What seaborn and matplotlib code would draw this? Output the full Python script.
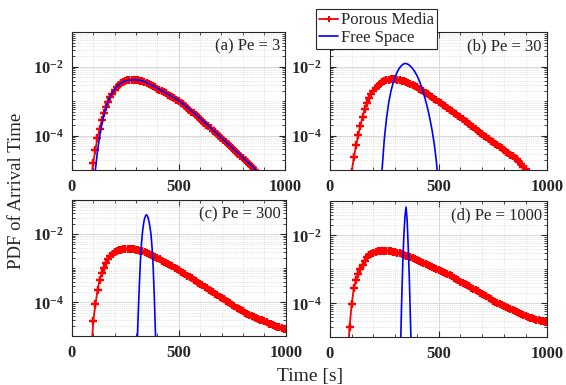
import numpy as np
import matplotlib
matplotlib.use("Agg")
import matplotlib.pyplot as plt
from matplotlib.ticker import FixedLocator, LogLocator, MultipleLocator, NullFormatter, FuncFormatter
import seaborn as sns

sns.set_style("ticks")
plt.rcParams["font.family"] = ["Liberation Serif", "DejaVu Serif"]
plt.rcParams["mathtext.fontset"] = "custom"
plt.rcParams["mathtext.rm"] = "Liberation Serif"
plt.rcParams["mathtext.bf"] = "Liberation Serif:bold"

# log10 of the PDF
# (a) Pe = 3
t_pm_a = list(range(90, 861, 10))
pm_a = [-5.25,
        -4.78, -4.42, -4.06, -3.80, -3.55, -3.35, -3.17, -3.02, -2.89, -2.78,
        -2.68, -2.60, -2.53, -2.48, -2.44, -2.41, -2.39, -2.375, -2.37, -2.37,
        -2.375, -2.385, -2.40, -2.42, -2.44, -2.47, -2.50, -2.53, -2.56, -2.60,
        -2.63, -2.67, -2.70, -2.74, -2.77, -2.81, -2.84, -2.88, -2.92, -2.95,
        -2.99, -3.04, -3.09, -3.14, -3.19, -3.24, -3.30, -3.35, -3.40, -3.46,
        -3.51, -3.57, -3.62, -3.68, -3.73, -3.79, -3.85, -3.90, -3.96, -4.02,
        -4.08, -4.13, -4.19, -4.25, -4.30, -4.36, -4.42, -4.48, -4.53, -4.59,
        -4.65, -4.71, -4.77, -4.82, -4.88, -4.94, -5.00]
t_fs_a = list(range(110, 861, 10))
fs_a = [-5.00, -4.45, -4.02, -3.68, -3.40, -3.18, -3.00, -2.86, -2.75, -2.66,
        -2.58, -2.52, -2.47, -2.44, -2.41, -2.395, -2.385, -2.38, -2.38, -2.38,
        -2.385, -2.39, -2.41, -2.43, -2.46, -2.49, -2.52, -2.55, -2.58, -2.62,
        -2.65, -2.69, -2.72, -2.76, -2.79, -2.83, -2.87, -2.90, -2.94, -2.98,
        -3.02, -3.07, -3.12, -3.17, -3.22, -3.28, -3.33, -3.38, -3.44, -3.49,
        -3.55, -3.60, -3.66, -3.71, -3.77, -3.83, -3.88, -3.94, -4.00, -4.06,
        -4.11, -4.17, -4.23, -4.28, -4.34, -4.40, -4.46, -4.51, -4.57, -4.63,
        -4.69, -4.75, -4.80, -4.86, -4.92, -4.98]

# (b) Pe = 30
t_pm_b = list(range(100, 901, 10))
pm_b = [-5.05, -4.62, -4.28, -3.98, -3.71, -3.45, -3.23, -3.06, -2.92, -2.80,
        -2.70, -2.61, -2.55, -2.50, -2.45, -2.42, -2.39, -2.37, -2.36, -2.36,
        -2.365, -2.375, -2.39, -2.40, -2.42, -2.44, -2.47, -2.50, -2.53, -2.56,
        -2.60, -2.63, -2.67, -2.71, -2.75, -2.79, -2.84, -2.88, -2.93, -2.97,
        -3.02, -3.06, -3.11, -3.15, -3.20, -3.24, -3.29, -3.33, -3.38, -3.42,
        -3.47, -3.52, -3.56, -3.61, -3.66, -3.71, -3.76, -3.81, -3.86, -3.91,
        -3.96, -4.00, -4.05, -4.10, -4.14, -4.19, -4.23, -4.28, -4.32, -4.37,
        -4.41, -4.46, -4.50, -4.55, -4.59, -4.64, -4.69, -4.75, -4.82, -4.90, -4.98]
t_fs_b = list(range(230, 501, 10))
fs_b = [-6.00, -4.95, -4.10, -3.50, -3.05, -2.72, -2.48, -2.29, -2.14, -2.03,
        -1.96, -1.91, -1.905, -1.93, -1.98, -2.05, -2.14, -2.25, -2.39, -2.56,
        -2.76, -2.98, -3.23, -3.52, -3.85, -4.25, -4.78, -5.45]

# (c) Pe = 300
t_pm_c = list(range(90, 1001, 10))
pm_c = [-5.50, -4.55, -4.06, -3.65, -3.34, -3.14, -2.99, -2.85, -2.73, -2.64,
        -2.58, -2.54, -2.50, -2.475, -2.46, -2.45, -2.445, -2.44, -2.44, -2.445,
        -2.45, -2.465, -2.475, -2.49, -2.51, -2.53, -2.56, -2.59, -2.62, -2.65,
        -2.68, -2.71, -2.74, -2.78, -2.81, -2.85, -2.88, -2.92, -2.95, -2.99,
        -3.03, -3.06, -3.10, -3.14, -3.18, -3.22, -3.26, -3.30, -3.34, -3.38,
        -3.42, -3.46, -3.50, -3.55, -3.59, -3.63, -3.67, -3.71, -3.75, -3.79,
        -3.83, -3.87, -3.91, -3.95, -3.99, -4.03, -4.08, -4.12, -4.16, -4.19,
        -4.23, -4.26, -4.30, -4.33, -4.36, -4.39, -4.42, -4.45, -4.48, -4.51,
        -4.53, -4.56, -4.59, -4.62, -4.64, -4.67, -4.69, -4.71, -4.73, -4.75,
        -4.77, -4.79]
t_fs_c = list(range(300, 396, 5))
fs_c = [-6.30, -5.30, -4.35, -3.55, -2.83, -2.30, -1.95, -1.70, -1.54, -1.46,
        -1.44, -1.50, -1.62, -1.80, -2.02, -2.42, -2.98, -3.80, -4.80, -5.80]

# (d) Pe = 1000
t_pm_d = list(range(80, 1001, 10))
pm_d = [-5.90, -4.70, -4.02, -3.55, -3.31, -3.13, -2.98, -2.86, -2.75, -2.65,
        -2.59, -2.55, -2.52, -2.49, -2.47, -2.46, -2.45, -2.45, -2.45, -2.46,
        -2.47, -2.48, -2.49, -2.51, -2.53, -2.55, -2.58, -2.60, -2.62, -2.65,
        -2.67, -2.70, -2.73, -2.75, -2.78, -2.81, -2.84, -2.87, -2.90, -2.93,
        -2.96, -2.99, -3.01, -3.04, -3.08, -3.11, -3.14, -3.18, -3.21, -3.25,
        -3.29, -3.32, -3.36, -3.39, -3.43, -3.47, -3.50, -3.54, -3.58, -3.61,
        -3.65, -3.69, -3.73, -3.77, -3.80, -3.84, -3.88, -3.92, -3.95, -3.99,
        -4.02, -4.05, -4.09, -4.12, -4.15, -4.18, -4.21, -4.24, -4.27, -4.29,
        -4.32, -4.34, -4.37, -4.39, -4.42, -4.44, -4.46, -4.48, -4.50, -4.52,
        -4.53, -4.55, -4.56]
t_fs_d = list(range(320, 381, 5))
fs_d = [-6.50, -5.20, -3.90, -2.80, -2.00, -1.45, -1.17, -1.55, -2.35, -3.25,
        -4.45, -5.60, -7.00]

panel_labels = ["(a) Pe = 3", "(b) Pe = 30", "(c) Pe = 300", "(d) Pe = 1000"]
series_names = ["Porous Media", "Free Space"]

panels = [(t_pm_a, pm_a, t_fs_a, fs_a), (t_pm_b, pm_b, t_fs_b, fs_b),
          (t_pm_c, pm_c, t_fs_c, fs_c), (t_pm_d, pm_d, t_fs_d, fs_d)]

# axes boxes in figure fractions (left, bottom, width, height)
boxes = [(0.127, 0.558, 0.377, 0.358), (0.583, 0.558, 0.384, 0.358),
         (0.127, 0.126, 0.378, 0.355), (0.583, 0.124, 0.384, 0.353)]

fig = plt.figure(figsize=(5.66, 3.85), dpi=100)

tick_fmt = FuncFormatter(lambda v, p: r"$\mathbf{10^{%d}}$" % int(round(np.log10(v))))

axes = []
for (tp, pm, tf, fs), box, lab in zip(panels, boxes, panel_labels):
    ax = fig.add_axes(box)
    ax.set_yscale("log")
    sns.lineplot(x=tp, y=10 ** np.array(pm), ax=ax, color="red", lw=1.3,
                 marker=(4, 2, 0), markersize=5.5, mew=1.6, mec="red",
                 errorbar=None, label=series_names[0])
    sns.lineplot(x=tf, y=10 ** np.array(fs), ax=ax, color="blue", lw=1.2,
                 errorbar=None, label=series_names[1])
    if ax.get_legend() is not None:
        ax.get_legend().remove()
    ax.set_xlim(0, 1000)
    ax.set_ylim(1e-5, 1e-1)
    ax.xaxis.set_major_locator(FixedLocator([0, 500, 1000]))
    ax.xaxis.set_minor_locator(MultipleLocator(100))
    ax.yaxis.set_major_locator(FixedLocator([1e-4, 1e-2]))
    ax.yaxis.set_minor_locator(LogLocator(base=10, subs=np.arange(1, 10), numticks=20))
    ax.yaxis.set_major_formatter(tick_fmt)
    ax.yaxis.set_minor_formatter(NullFormatter())
    ax.grid(which="major", color="#d8d8d8", lw=0.7)
    ax.grid(which="minor", color="#cfcfcf", lw=0.5, ls=":")
    ax.set_axisbelow(True)
    ax.tick_params(which="both", direction="in", top=True, right=True,
                   colors="#262626", labelcolor="#262626", labelsize=12, pad=6)
    ax.tick_params(which="major", length=4, width=0.8)
    ax.tick_params(which="minor", length=2, width=0.6)
    for lbl in ax.get_xticklabels():
        lbl.set_fontweight("bold")
    for sp in ax.spines.values():
        sp.set_color("#262626")
        sp.set_linewidth(0.8)
    ax.set_xlabel("")
    ax.set_ylabel("")
    ax.text(0.975, 0.955, lab, transform=ax.transAxes, ha="right", va="top",
            fontsize=12, color="#262626")
    axes.append(ax)

handles, labels = axes[1].get_legend_handles_labels()
leg = fig.legend(handles, labels, loc="upper left",
                 bbox_to_anchor=(316 / 566, 1 - 9 / 385), frameon=True,
                 fancybox=False, edgecolor="#262626", framealpha=1, fontsize=12,
                 handlelength=1.1, handletextpad=0.2, borderpad=0.2,
                 labelspacing=0.1, borderaxespad=0)
leg.get_frame().set_linewidth(0.8)
for h in leg.legend_handles:
    h.set_markersize(4)
    h.set_markeredgewidth(1.2)

fig.text(0.03, 0.504, "PDF of Arrival Time", rotation=90, ha="center",
         va="center", fontsize=13.5, color="#262626")
fig.text(0.548, 0.022, "Time [s]", ha="center", va="center", fontsize=14,
         color="#262626")

fig.savefig("out.png", dpi=100)
